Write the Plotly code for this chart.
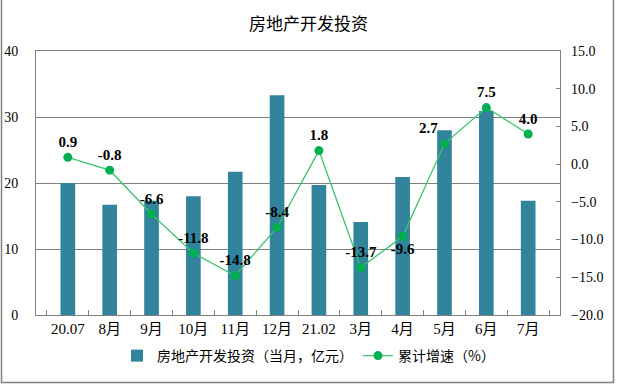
import plotly.graph_objects as go

categories = ["20.07", "8月", "9月", "10月", "11月", "12月", "21.02", "3月", "4月", "5月", "6月", "7月"]
investment = [20.0, 16.7, 17.3, 18.0, 21.7, 33.3, 19.7, 14.1, 20.9, 28.0, 30.9, 17.3]
growth = [0.9, -0.8, -6.6, -11.8, -14.8, -8.4, 1.8, -13.7, -9.6, 2.7, 7.5, 4.0]
label_pos = ["top center"] * 12
label_pos[8] = "bottom center"
label_pos[9] = "top left"

bar_name = "房地产开发投资（当月，亿元）"
line_name = "累计增速（%）"
title_text = "房地产开发投资"

serif = "Liberation Serif, Noto Sans CJK SC"
cjk = "Noto Sans CJK SC, Liberation Serif"

W, H = 617, 385
ml, mr, mt, mb = 36, 57, 51, 70
pw, ph = W - ml - mr, H - mt - mb

fig = go.Figure()
fig.add_trace(go.Bar(
    x=categories, y=investment, name=bar_name,
    marker=dict(color="#31849B", line=dict(width=0)),
    width=0.35, yaxis="y",
))
fig.add_trace(go.Scatter(
    x=categories, y=growth, name=line_name, yaxis="y2",
    mode="lines+markers+text",
    line=dict(color="#3CC46E", width=1.3),
    marker=dict(color="#00B050", size=9),
    text=[f"{v:.1f}" for v in growth],
    textposition=label_pos,
    textfont=dict(family=serif, size=15, color="#000000", weight="bold"),
))

fig.update_layout(
    width=W, height=H,
    margin=dict(l=ml, r=mr, t=mt, b=mb, autoexpand=False),
    paper_bgcolor="white", plot_bgcolor="white",
    title=dict(text=title_text, x=0.5, xref="container", xanchor="center",
               y=1 - 24 / H, yref="container", yanchor="middle",
               font=dict(family=cjk, size=17, color="#000000")),
    showlegend=True,
    legend=dict(orientation="h", xref="container", x=0.5, xanchor="center",
                yref="container", y=1 - 356 / H, yanchor="middle",
                font=dict(family=cjk, size=14, color="#000000"),
                itemwidth=30, traceorder="normal"),
    xaxis=dict(type="category", showline=True, linecolor="#808080", linewidth=1,
               mirror=True, ticks="inside", tickson="boundaries", ticklen=5,
               tickcolor="#808080", showgrid=False, automargin=False,
               tickangle=0,
               tickfont=dict(family=serif, size=15, color="#000000")),
    yaxis=dict(range=[0, 40], dtick=10, showgrid=True, gridcolor="#808080",
               gridwidth=1, showline=True, linecolor="#808080", mirror=True,
               ticks="", zeroline=False, ticklabelstandoff=14, automargin=False,
               tickfont=dict(family=serif, size=14, color="#000000")),
    yaxis2=dict(range=[-20, 15], dtick=5, tickformat=".1f", overlaying="y",
                side="right", showgrid=False, zeroline=False, showline=False,
                ticks="inside", ticklen=4, tickcolor="#808080",
                ticklabelstandoff=10, automargin=False,
                tickfont=dict(family=serif, size=14, color="#000000")),
    shapes=[dict(type="rect", xref="paper", yref="paper",
                 x0=(1.5 - ml) / pw, x1=(W - 3.5 - ml) / pw,
                 y0=-(H - 2.5 - mt - ph) / ph, y1=(H - mt - 2) / ph,
                 line=dict(color="#808080", width=1.5), layer="below")],
)

fig.write_html("out.html", config={"displayModeBar": False},
               post_script="document.body.style.margin='0';"
                           "document.body.style.overflow='hidden';")
